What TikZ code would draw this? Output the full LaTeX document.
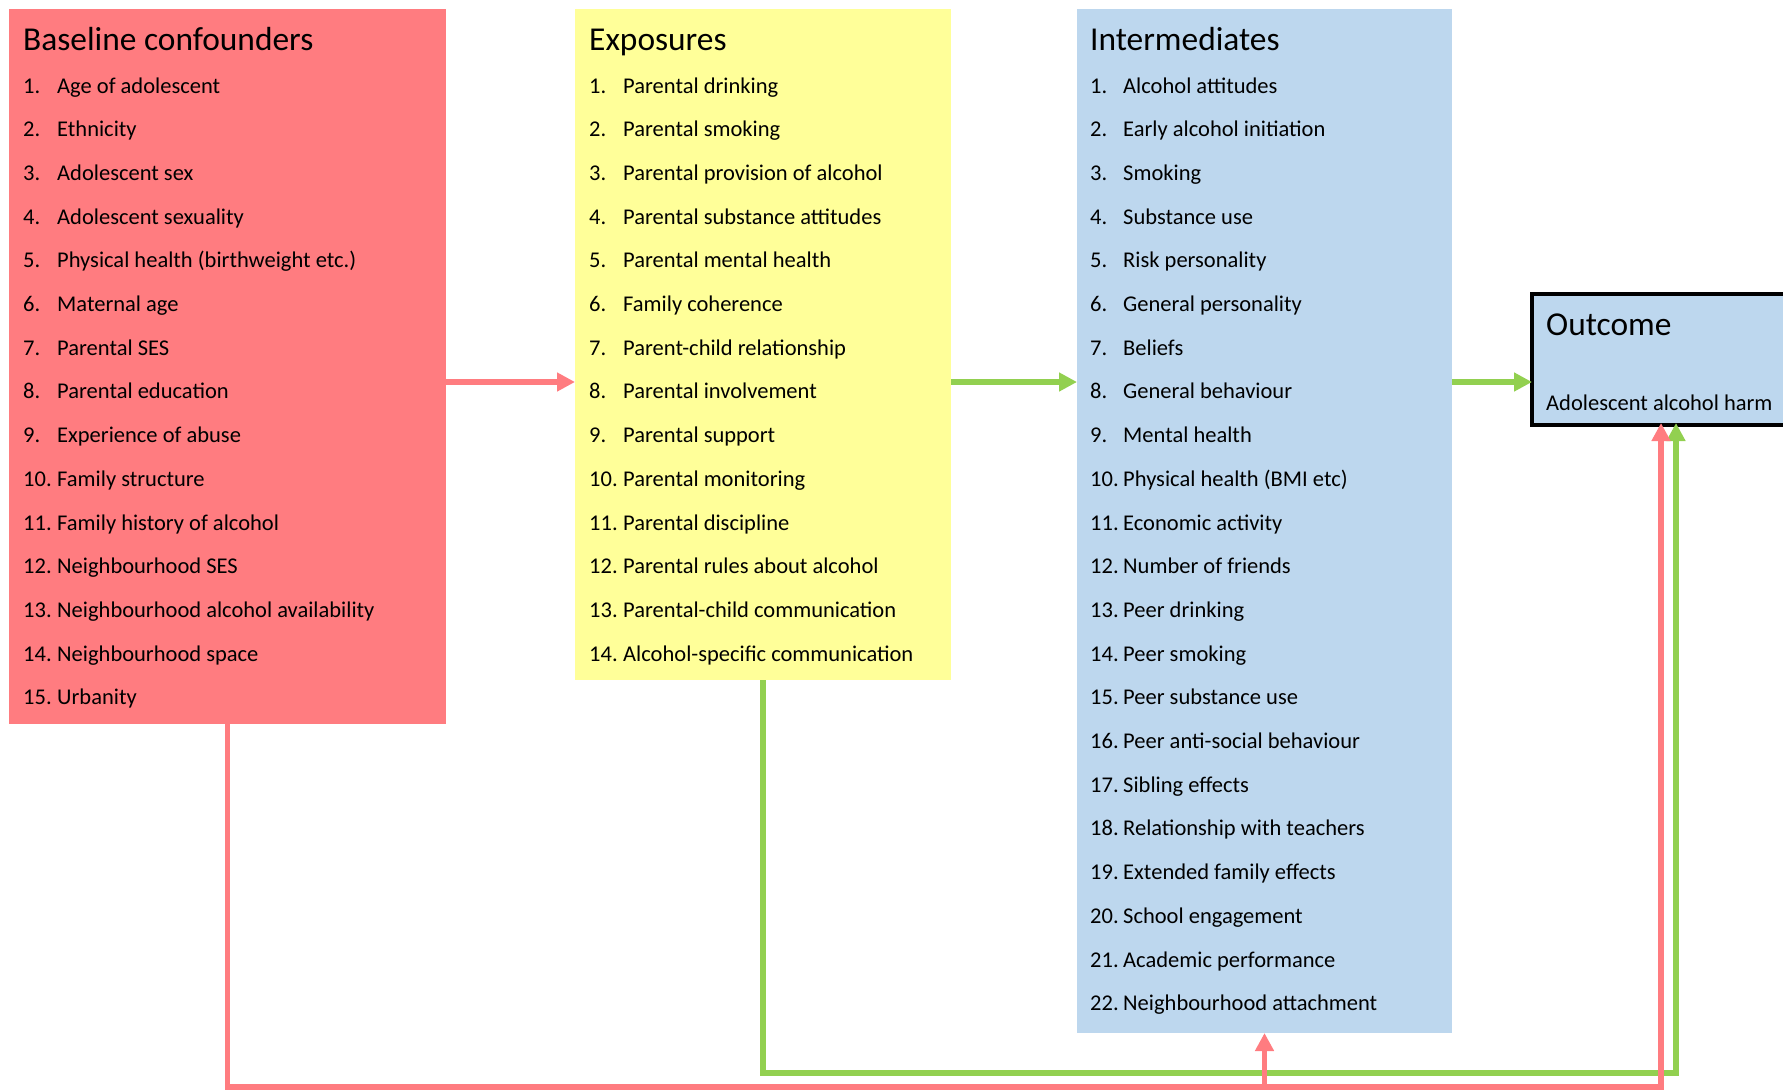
\documentclass[tikz,border=0pt]{standalone}
\usepackage{fontspec}
\setmainfont{Carlito}
\usetikzlibrary{arrows.meta}
\definecolor{confred}{HTML}{FF7C80}
\definecolor{expoyellow}{HTML}{FFFF99}
\definecolor{interblue}{HTML}{BDD7EE}
\definecolor{linkgreen}{HTML}{92D050}
\begin{document}
\begin{tikzpicture}[x=1pt,y=-1pt,
  panel/.style={anchor=north west,inner sep=0pt,outer sep=0pt,draw=none},
  heading/.style={anchor=base west,inner sep=0pt,font=\fontsize{33.4}{40}\selectfont},
  itemnum/.style={anchor=base west,inner sep=0pt,font=\fontsize{22.5}{27}\selectfont},
  itemtxt/.style={anchor=base west,inner sep=0pt,font=\fontsize{22.5}{27}\selectfont},
  link/.style={line width=5.5pt,-{Triangle[length=18pt,width=18pt]}}]
\useasboundingbox (0,0) rectangle (1783,1090);
\clip (0,0) rectangle (1783,1090);
\fill[white] (0,0) rectangle (1783,1090);

% the three panels
\node[panel,fill=confred,minimum width=437pt,minimum height=715pt] (conf) at (9,9) {};
\node[panel,fill=expoyellow,minimum width=376pt,minimum height=671pt] (expo) at (575,9) {};
\node[panel,fill=interblue,minimum width=375pt,minimum height=1024pt] (inter) at (1077,9) {};
% outcome box, running off the right edge
\node[panel,fill=interblue,draw=black,line width=4pt,minimum width=266pt,minimum height=131pt] (outc) at (1532,294) {};

% headings
\node[heading] (confh) at (23,50) {Baseline confounders};
\node[heading] (expoh) at (589,50) {Exposures};
\node[heading] (interh) at (1090,50) {Intermediates};
\node[heading] (outch) at (1546,335) {Outcome};
\node[itemtxt] (outct) at (1546,410) {Adolescent alcohol harm};

% numbered lists
\foreach \t [count=\i] in {Age of adolescent,Ethnicity,Adolescent sex,Adolescent sexuality,
  Physical health (birthweight etc.),Maternal age,Parental SES,Parental education,
  Experience of abuse,Family structure,Family history of alcohol,Neighbourhood SES,
  Neighbourhood alcohol availability,Neighbourhood space,Urbanity}{
  \node[itemnum] (cn\i) at (23,{93+(\i-1)*43.7}) {\i.};
  \node[itemtxt] (ct\i) at (57,{93+(\i-1)*43.7}) {\t};
}
\foreach \t [count=\i] in {Parental drinking,Parental smoking,Parental provision of alcohol,
  Parental substance attitudes,Parental mental health,Family coherence,
  Parent-child relationship,Parental involvement,Parental support,Parental monitoring,
  Parental discipline,Parental rules about alcohol,Parental-child communication,
  Alcohol-specific communication}{
  \node[itemnum] (en\i) at (589,{93+(\i-1)*43.7}) {\i.};
  \node[itemtxt] (et\i) at (623,{93+(\i-1)*43.7}) {\t};
}
\foreach \t [count=\i] in {Alcohol attitudes,Early alcohol initiation,Smoking,Substance use,
  Risk personality,General personality,Beliefs,General behaviour,Mental health,
  Physical health (BMI etc),Economic activity,Number of friends,Peer drinking,
  Peer smoking,Peer substance use,Peer anti-social behaviour,Sibling effects,
  Relationship with teachers,Extended family effects,School engagement,
  Academic performance,Neighbourhood attachment}{
  \node[itemnum] (in\i) at (1090,{93+(\i-1)*43.7}) {\i.};
  \node[itemtxt] (it\i) at (1123,{93+(\i-1)*43.7}) {\t};
}

% routing points
\coordinate (row) at (0,382);
\coordinate (greenlane) at (0,1073);
\coordinate (redlane) at (0,1087);
\coordinate (greenup) at (1676,0);
\coordinate (redup) at (1661,0);

% forward arrows
\draw[link,draw=confred] (conf.east |- row) -- (expo.west |- row);
\draw[link,draw=linkgreen] (expo.east |- row) -- (inter.west |- row);
\draw[link,draw=linkgreen] (inter.east |- row) -- (outc.west |- row);

% green bypass from exposures to outcome
\draw[link,draw=linkgreen,line join=miter]
  (expo.south) -- (expo.south |- greenlane) -- (greenup |- greenlane)
  -- ([yshift=2pt]greenup |- outc.south);

% red bypass from confounders to intermediates and outcome
\draw[link,draw=confred,line join=miter]
  (conf.south) -- (conf.south |- redlane) -- (redup |- redlane)
  -- ([yshift=2pt]redup |- outc.south);
\draw[link,draw=confred] (inter.south |- redlane) -- (inter.south);
\end{tikzpicture}
\end{document}
